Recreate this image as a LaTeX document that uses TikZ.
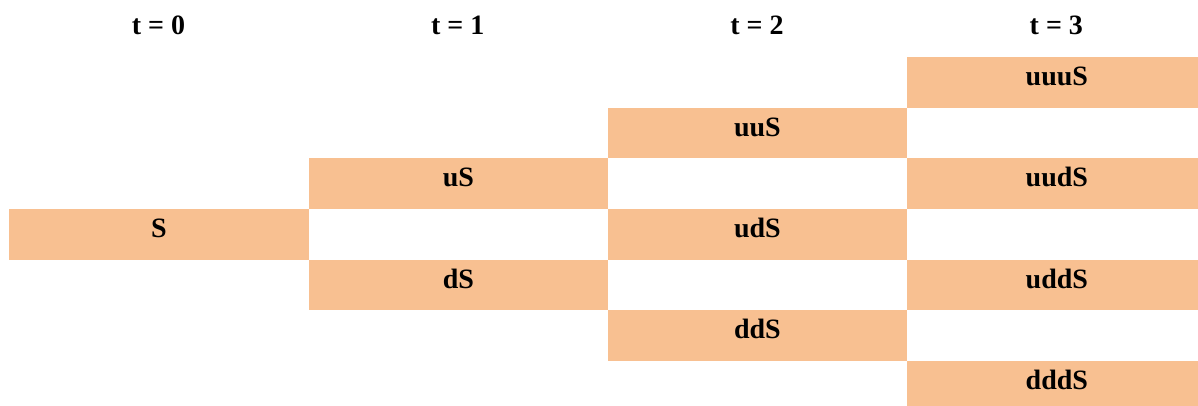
\documentclass[tikz,border=0pt]{standalone}
\usepackage{fontspec}
\setmainfont{Liberation Serif}
\definecolor{peach}{RGB}{248,192,145}
\begin{document}
\begin{tikzpicture}[x=0.5pt,y=-0.5pt,
  lbl/.style={font=\fontsize{14}{16}\selectfont\bfseries},
  cell/.style={lbl, fill=peach, draw=none, anchor=north west,
    inner xsep=0pt, inner ysep=0pt, minimum width=149.75pt,
    text height=14.25pt, text depth=11.08pt},
  head/.style={lbl, anchor=base, inner sep=0pt}]
  \useasboundingbox (0,0) rectangle (1198,406);
  \clip (0,0) rectangle (1198,406);
  % column left edges and row top edges (px)
  \def\ca{8.7}\def\cb{308.3}\def\cc{607.2}\def\cd{906.7}
  % time headers
  \node[head] (t0) at (158.5,35) {t = 0};
  \node[head] (t1) at (457.7,35) {t = 1};
  \node[head] (t2) at (757.0,35) {t = 2};
  \node[head] (t3) at (1056.3,35) {t = 3};
  % price lattice cells
  \node[cell] (uuuS) at (\cd,56.7)   {uuuS};
  \node[cell] (uuS)  at (\cc,107.37) {uuS};
  \node[cell] (uS)   at (\cb,158.04) {uS};
  \node[cell] (uudS) at (\cd,158.04) {uudS};
  \node[cell] (S)    at (\ca,208.71) {S};
  \node[cell] (udS)  at (\cc,208.71) {udS};
  \node[cell] (dS)   at (\cb,259.38) {dS};
  \node[cell] (uddS) at (\cd,259.38) {uddS};
  \node[cell] (ddS)  at (\cc,310.05) {ddS};
  \node[cell] (dddS) at (\cd,360.72) {dddS};
\end{tikzpicture}
\end{document}
